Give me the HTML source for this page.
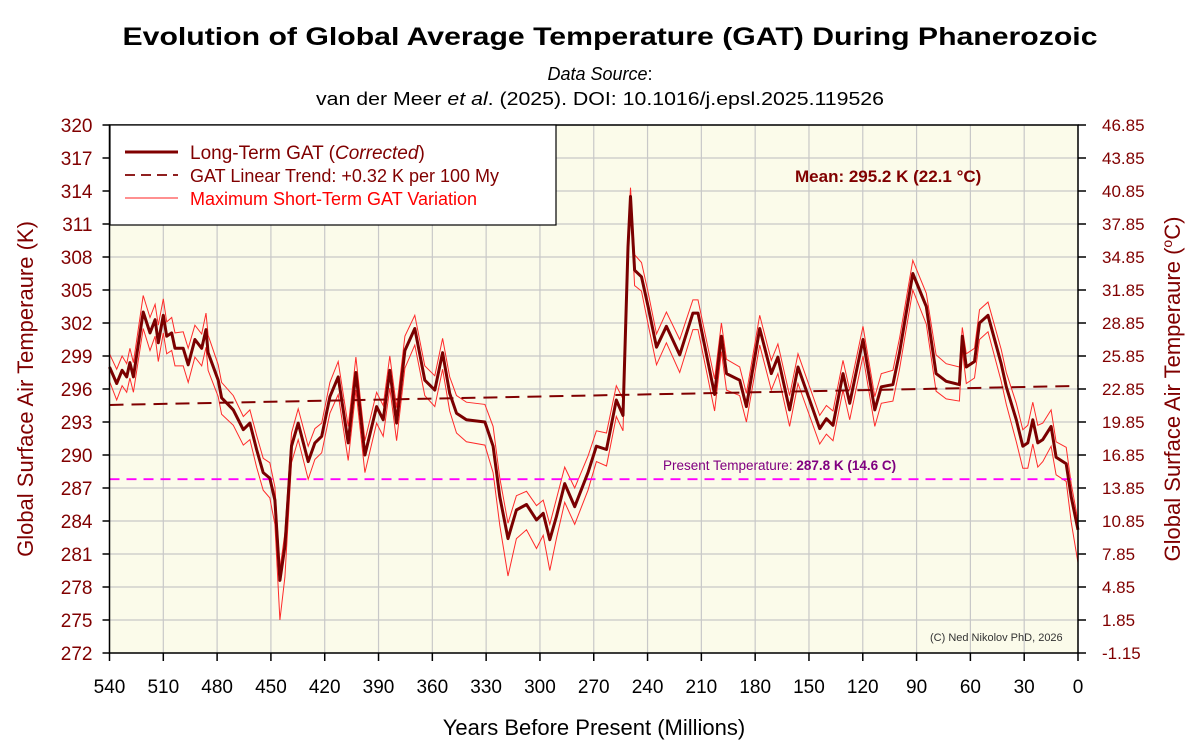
<!DOCTYPE html>
<html><head><meta charset="utf-8"><style>
html,body{margin:0;padding:0;background:#fff;}
svg{display:block;font-family:"Liberation Sans",Arial,sans-serif;}
</style></head><body>
<svg id="chart" width="1200" height="753" viewBox="0 0 1200 753">
<text x="610" y="45" font-size="25" font-weight="bold" text-anchor="middle" textLength="975" lengthAdjust="spacingAndGlyphs">Evolution of Global Average Temperature (GAT) During Phanerozoic</text>
<text x="600" y="80" font-size="18" text-anchor="middle"><tspan font-style="italic">Data Source</tspan>:</text>
<text x="600" y="105" font-size="18" text-anchor="middle" textLength="568" lengthAdjust="spacingAndGlyphs">van der Meer <tspan font-style="italic">et al</tspan>. (2025). DOI: 10.1016/j.epsl.2025.119526</text>
<rect x="109.5" y="125" width="968.5" height="528" fill="#fbfbea"/>
<g id="grid"></g>
<g id="series"></g>
<rect x="109.5" y="125" width="968.5" height="528" fill="none" stroke="#000" stroke-width="1.5"/>
<g id="axes"></g>
<g>
<rect x="110" y="125" width="446" height="100" fill="#fff" stroke="#000" stroke-width="1.2"/>
<line x1="125" y1="152" x2="178" y2="152" stroke="#800000" stroke-width="3"/>
<text x="190" y="159" font-size="19" fill="#800000">Long-Term GAT (<tspan font-style="italic">Corrected</tspan>)</text>
<line x1="125" y1="175" x2="178" y2="175" stroke="#800000" stroke-width="1.8" stroke-dasharray="10,6"/>
<text x="190" y="182" font-size="18" fill="#800000">GAT Linear Trend: +0.32 K per 100 My</text>
<line x1="125" y1="198" x2="178" y2="198" stroke="#ff2020" stroke-width="1"/>
<text x="190" y="205" font-size="18" fill="#ff0000">Maximum Short-Term GAT Variation</text>
</g>
<text x="795" y="182" font-size="17" font-weight="bold" fill="#800000">Mean: 295.2 K (22.1 °C)</text>
<text x="663" y="470" font-size="13.5" fill="#800080">Present Temperature: <tspan font-weight="bold">287.8 K (14.6 C)</tspan></text>
<text x="930" y="641" font-size="11" fill="#333">(C) Ned Nikolov PhD, 2026</text>
<text x="0" y="0" font-size="22" fill="#800000" text-anchor="middle" transform="translate(33,389) rotate(-90)">Global Surface Air Temperaure (K)</text>
<text x="0" y="0" font-size="22" fill="#800000" text-anchor="middle" transform="translate(1180,389) rotate(-90)">Global Surface Air Temperaure (<tspan font-size="14" dy="-8">o</tspan><tspan dy="8">C)</tspan></text>
<text x="594" y="735" font-size="22" text-anchor="middle">Years Before Present (Millions)</text>
</svg>
<script>
const ages=[540,536,533,530.4,528.6,526.7,521.2,517.4,514.6,512.8,510,508.1,505.3,503.5,498.9,496.1,492.4,488.6,486.2,485,479.4,477.5,471,465.4,461.7,458,454.3,450.6,447.8,445,442.2,438.5,434.8,429.2,425.5,421.7,417.1,412.5,406.9,402.6,397.6,391.1,387.4,383.7,379.9,375.3,369.8,364.2,358.6,354.3,350.3,346.5,341,330.7,326.1,322.4,317.8,313.1,307.5,301.9,298.2,294.5,290.8,286.2,280.6,273.2,268.5,262.9,257.4,253.7,250.9,249.5,247.2,243.4,239.7,235,229.5,222.1,214.7,211.9,202.6,198.8,196,188.6,184.9,177.5,171,167.3,160.8,156.1,144,140.3,136.6,131,127.3,119.9,113.3,109.7,103.2,99.5,92.1,84.6,79.1,73.5,66.1,64.5,62.3,57.7,54.9,50.2,42.8,40,34.4,30.8,28,25.2,22.4,19.6,15,12.2,6.6,3.8,0];
const gat=[298.0,296.5,297.7,297.1,298.4,297.1,303.0,301.1,302.3,300.2,302.7,300.8,301.1,299.7,299.7,298.2,300.5,299.7,301.4,299.3,296.8,295.2,294.1,292.3,292.9,290.5,288.4,287.9,285.9,278.6,281.7,290.8,292.9,289.4,291.1,291.7,295.3,297.1,291.1,297.5,290.0,294.4,293.2,297.7,292.9,299.5,301.5,296.8,295.9,299.3,295.6,293.8,293.2,293.0,290.8,286.2,282.4,285.0,285.5,284.1,284.7,282.3,284.4,287.4,285.3,288.4,290.8,290.5,295.0,293.6,308.9,313.5,306.8,306.2,303.5,299.8,301.7,299.1,302.9,302.9,295.5,300.8,297.4,296.8,294.4,301.5,297.4,298.9,294.1,298.0,292.4,293.3,292.7,297.4,294.7,300.5,294.1,296.2,296.4,299.3,306.5,303.5,297.4,296.7,296.4,300.8,298.0,298.5,302.0,302.7,298.3,296.2,293.2,290.8,291.1,293.2,291.1,291.4,292.6,289.8,289.2,286.2,283.2];
const upperDev=[1.2,1.3,1.3,1.2,1.3,1.3,1.5,1.4,1.4,1.6,1.5,1.3,1.4,1.4,1.5,1.5,1.3,1.3,1.5,1.6,1.4,1.4,1.3,1.2,1.2,1.3,1.3,1.4,1.2,1.0,1.2,1.2,1.3,1.4,1.3,1.2,1.3,1.4,1.5,1.4,1.3,1.3,1.3,1.3,1.4,1.3,1.2,1.3,1.3,1.3,1.5,1.6,1.6,1.6,1.8,1.7,1.4,1.3,1.2,1.3,1.2,1.4,1.6,1.5,1.7,1.5,1.4,1.5,1.3,1.5,1.0,0.8,1.4,1.3,1.3,1.2,1.3,1.4,1.2,1.2,1.4,1.2,1.3,1.2,1.2,1.2,1.2,1.2,1.3,1.2,1.2,1.2,1.3,1.2,1.2,1.2,1.2,1.2,1.3,1.3,1.2,1.2,1.7,1.6,1.6,0.8,1.2,1.2,1.2,1.2,1.3,1.3,1.5,1.5,1.6,1.6,1.6,1.5,1.5,1.4,1.5,1.2,0.8];
const lowerDev=[1.3,1.5,1.4,1.4,1.4,1.4,1.5,1.6,1.5,1.7,1.6,1.6,1.6,1.6,1.6,1.6,1.6,1.6,1.6,1.6,1.5,1.5,1.4,1.4,1.5,1.6,1.6,1.8,2.2,3.6,2.8,1.5,1.5,1.6,1.5,1.5,1.5,1.6,1.6,1.6,1.6,1.5,1.5,1.6,1.6,1.6,1.5,1.4,1.5,1.5,1.6,1.8,2.0,2.1,2.4,2.6,3.4,2.6,2.3,2.6,2.0,2.8,2.0,1.7,1.6,1.6,1.4,1.5,1.5,1.4,1.5,0.8,1.4,1.3,1.6,1.6,1.5,1.6,1.5,1.5,1.5,1.4,1.5,1.4,1.4,1.5,1.5,1.5,1.5,1.5,1.4,1.4,1.4,1.5,1.5,1.5,1.5,1.5,1.5,1.5,1.5,1.6,1.6,1.6,1.5,1.2,1.5,1.5,1.5,1.5,1.6,1.6,2.0,2.0,2.3,2.2,2.2,2.0,1.8,1.6,1.6,2.3,3.0];
const xTicks=[540,510,480,450,420,390,360,330,300,270,240,210,180,150,120,90,60,30,0];
const yTicks=[272,275,278,281,284,287,290,293,296,299,302,305,308,311,314,317,320];
const cTickLabels=["-1.15","1.85","4.85","7.85","10.85","13.85","16.85","19.85","22.85","25.85","28.85","31.85","34.85","37.85","40.85","43.85","46.85"];
const trendStart=[540,294.55];
const trendEnd=[0,296.28];
const presentTemp=287.8;

const NS="http://www.w3.org/2000/svg";
const X0=109.5,X1=1078,Y0=653,Y1=125;
function xs(a){return X0+(540-a)/540*(X1-X0);}
function ys(k){return Y0-(k-272)/48*(Y0-Y1);}
function mk(tag,attrs,parent,txt){const e=document.createElementNS(NS,tag);for(const k in attrs)e.setAttribute(k,attrs[k]);if(txt!==undefined)e.textContent=txt;parent.appendChild(e);return e;}
const grid=document.getElementById('grid'),axes=document.getElementById('axes'),series=document.getElementById('series');
xTicks.forEach(t=>{
  const g=mk('line',{x1:xs(t),x2:xs(t),y1:Y1,y2:Y0,stroke:'#c8c8c8','stroke-width':1.2},grid);
  
  
  const tk=mk('line',{x1:xs(t),x2:xs(t),y1:Y0,y2:Y0+8,stroke:'#000','stroke-width':1.5},axes);
  
  
  const l=mk('text',{x:xs(t),y:Y0+40,'font-size':19,'text-anchor':'middle'},axes,String(t));
  
  
});
yTicks.forEach((t,i)=>{
  const g=mk('line',{x1:X0,x2:X1,y1:ys(t),y2:ys(t),stroke:'#c8c8c8','stroke-width':1.2},grid);
  
  
  const tk=mk('line',{x1:X0-7,x2:X0,y1:ys(t),y2:ys(t),stroke:'#000','stroke-width':1.5},axes);
  
  
  const l=mk('text',{x:X0-17,y:ys(t)+7,'font-size':19,'text-anchor':'end',fill:'#800000'},axes,String(t));
  
  
  const tk2=mk('line',{x1:X1,x2:X1+8,y1:ys(t),y2:ys(t),stroke:'#000','stroke-width':1.5},axes);
  
  
  const l2=mk('text',{x:X1+24,y:ys(t)+6,'font-size':17,fill:'#800000'},axes,cTickLabels[i]);
  
  
});
function pts(vals){return ages.map((a,i)=>xs(a).toFixed(1)+','+ys(vals[i]).toFixed(1)).join(' ');}
const up=mk('polyline',{points:pts(gat.map((v,i)=>v+upperDev[i])),fill:'none',stroke:'#ff2a2a','stroke-width':1},series);


const lo=mk('polyline',{points:pts(gat.map((v,i)=>v-lowerDev[i])),fill:'none',stroke:'#ff2a2a','stroke-width':1},series);


const tr=mk('line',{x1:xs(trendStart[0]),y1:ys(trendStart[1]),x2:xs(trendEnd[0]),y2:ys(trendEnd[1]),stroke:'#800000','stroke-width':2,'stroke-dasharray':'14,8'},series);


const pl=mk('line',{x1:X0,y1:ys(presentTemp),x2:X1,y2:ys(presentTemp),stroke:'#ff00ff','stroke-width':1.8,'stroke-dasharray':'10,7'},series);


const mainL=mk('polyline',{points:pts(gat),fill:'none',stroke:'#7a0000','stroke-width':3,'stroke-linejoin':'round'},series);


</script>
</body></html>
